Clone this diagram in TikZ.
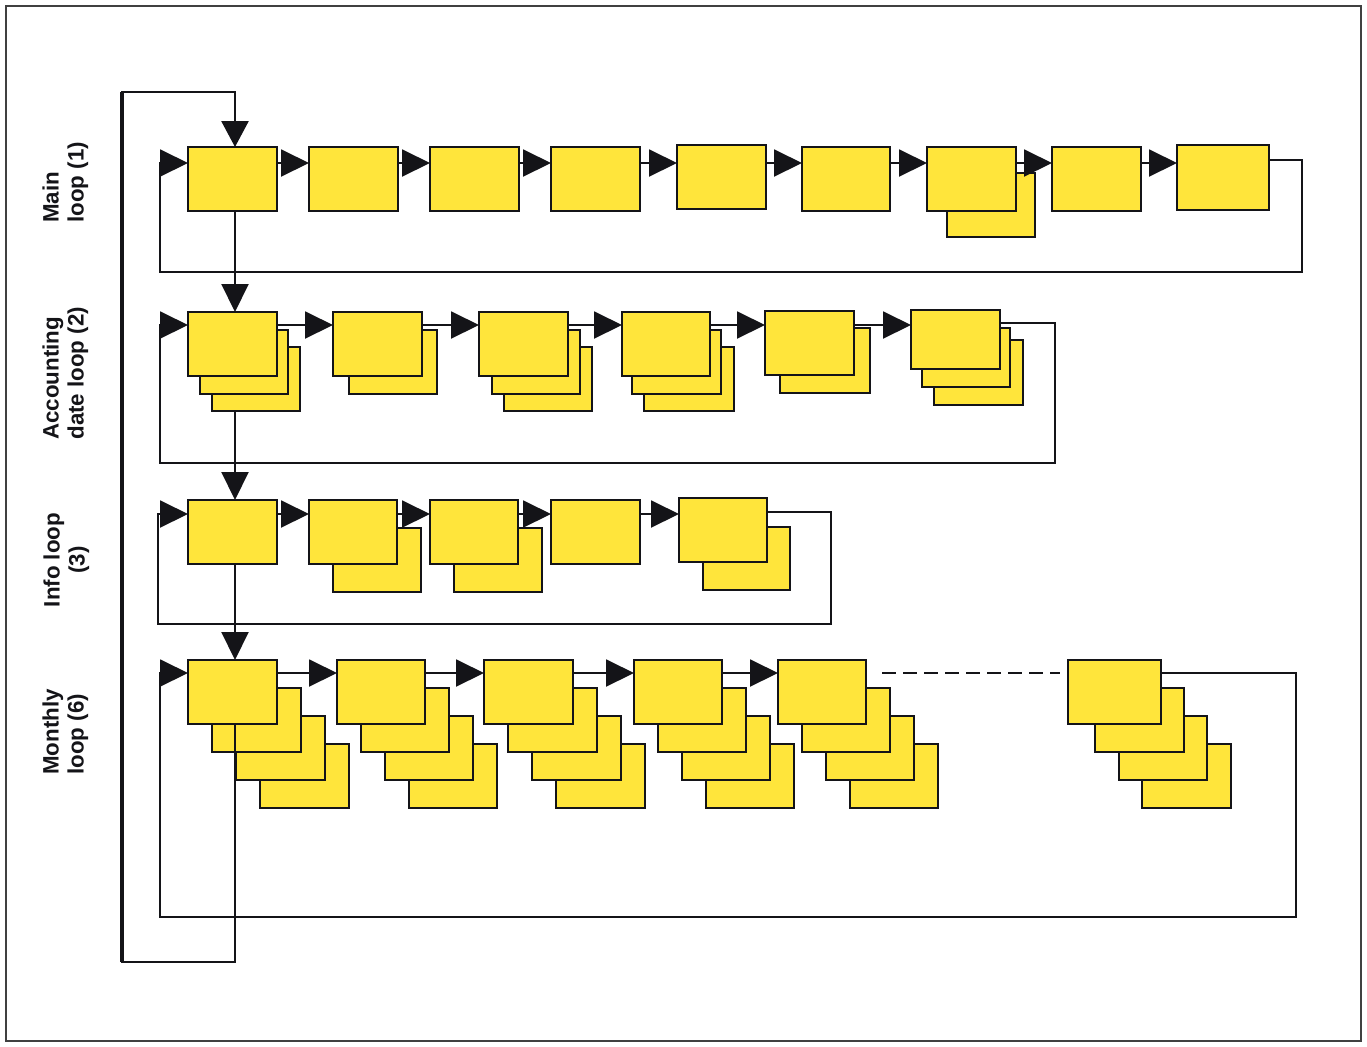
\documentclass[tikz,border=0pt]{standalone}
\usepackage{fontspec}
\setmainfont{Liberation Sans}
\usetikzlibrary{arrows.meta}

\definecolor{boxyellow}{RGB}{255,229,59}
\definecolor{ink}{RGB}{20,20,24}

% a yellow step box given by its corners (x1,y1) and (x2,y2)
\newcommand\ybox[5]{%
  \node[yb, minimum width={((#4)-(#2))*0.5pt}, minimum height={((#5)-(#3))*0.5pt}]
    (#1) at ({((#2)+(#4))/2},{((#3)+(#5))/2}) {};}

\tikzset{
  yb/.style={draw=ink, fill=boxyellow, line width=1pt, inner sep=0pt, outer sep=0pt, rectangle},
  conn/.style={draw=ink, line width=1pt},
  arr/.style={conn, -{Triangle[length=14pt,width=13.5pt]}},
  outer/.style={draw=ink, line width=1.3pt},
  lbl/.style={inner sep=0pt, rotate=90, text=ink,
    font=\fontsize{11.15pt}{12.5pt}\selectfont\bfseries},
  frame/.style={draw=black!75, line width=0.6pt}
}

\begin{document}
\begin{tikzpicture}[x=0.5pt, y=-0.5pt]
\useasboundingbox (0,0) rectangle (1367,1046);
\fill[white] (0,0) rectangle (1367,1046);
\draw[frame] (6,6) rectangle (1361,1041);

% loop labels
\node[lbl, align=left, anchor=north west] (lab1) at (42,223) {Main\\loop (1)};
\node[lbl, align=left, anchor=north west] (lab2) at (42,440) {Accounting\\date loop (2)};
\node[lbl, align=center, anchor=north] (lab3) at (43,560) {Info loop\\(3)};
\node[lbl, align=left, anchor=north west] (lab4) at (42,775) {Monthly\\loop (6)};

% arrow heights of the four rows, and the column of the links between loops
\coordinate (y1) at (0,163);
\coordinate (y2) at (0,325);
\coordinate (y3) at (0,514);
\coordinate (y4) at (0,673);
\coordinate (vx) at (235,0);

% ---- row 1: main loop
\ybox{r1b1}{188}{147}{277}{211}
\ybox{r1b2}{309}{147}{398}{211}
\ybox{r1b3}{430}{147}{519}{211}
\ybox{r1b4}{551}{147}{640}{211}
\ybox{r1b5}{677}{145}{766}{209}
\ybox{r1b6}{802}{147}{890}{211}
\ybox{r1b7-1}{947}{173}{1035}{237}
\ybox{r1b7}{927}{147}{1016}{211}
\ybox{r1b8}{1052}{147}{1141}{211}
\ybox{r1b9}{1177}{145}{1269}{210}

% ---- row 2: accounting date loop
\ybox{r2b1-2}{212}{347}{300}{411}
\ybox{r2b1-1}{200}{330}{288}{394}
\ybox{r2b1}{188}{312}{277}{376}
\ybox{r2b2-1}{349}{330}{437}{394}
\ybox{r2b2}{333}{312}{422}{376}
\ybox{r2b3-2}{504}{347}{592}{411}
\ybox{r2b3-1}{492}{330}{580}{394}
\ybox{r2b3}{479}{312}{568}{376}
\ybox{r2b4-2}{644}{347}{734}{411}
\ybox{r2b4-1}{632}{330}{721}{394}
\ybox{r2b4}{622}{312}{710}{376}
\ybox{r2b5-1}{780}{328}{870}{393}
\ybox{r2b5}{765}{311}{854}{375}
\ybox{r2b6-2}{934}{340}{1023}{405}
\ybox{r2b6-1}{922}{328}{1010}{387}
\ybox{r2b6}{911}{310}{1000}{369}

% ---- row 3: info loop
\ybox{r3b1}{188}{500}{277}{564}
\ybox{r3b2-1}{333}{528}{421}{592}
\ybox{r3b2}{309}{500}{397}{564}
\ybox{r3b3-1}{454}{528}{542}{592}
\ybox{r3b3}{430}{500}{518}{564}
\ybox{r3b4}{551}{500}{640}{564}
\ybox{r3b5-1}{703}{527}{790}{590}
\ybox{r3b5}{679}{498}{767}{562}

% ---- row 4: monthly loop, each step with three copies behind it
\foreach \n/\xa/\xb in {1/188/277, 2/337/425, 3/484/573, 4/634/722, 5/778/866} {
  \ybox{r4b\n-3}{\xa+72}{744}{\xb+72}{808}
  \ybox{r4b\n-2}{\xa+48}{716}{\xb+48}{780}
  \ybox{r4b\n-1}{\xa+24}{688}{\xb+24}{752}
  \ybox{r4b\n}{\xa}{660}{\xb}{724}
}
\ybox{r4b6-3}{1142}{744}{1231}{808}
\ybox{r4b6-2}{1119}{716}{1207}{780}
\ybox{r4b6-1}{1095}{688}{1184}{752}
\ybox{r4b6}{1068}{660}{1161}{724}

% step-to-step arrows
\foreach \i/\j in {1/2,2/3,3/4,4/5,5/6,6/7,7/8,8/9}
  \draw[arr] (r1b\i.east |- y1) -- (r1b\j.west |- y1);
\foreach \i/\j in {1/2,2/3,3/4,4/5,5/6}
  \draw[arr] (r2b\i.east |- y2) -- (r2b\j.west |- y2);
\foreach \i/\j in {1/2,2/3,3/4,4/5}
  \draw[arr] (r3b\i.east |- y3) -- (r3b\j.west |- y3);
\foreach \i/\j in {1/2,2/3,3/4,4/5}
  \draw[arr] (r4b\i.east |- y4) -- (r4b\j.west |- y4);
\draw[conn, dash pattern=on 7pt off 3.5pt]
  ([xshift=8pt,yshift=-6.5pt]r4b5.north east) -- ([xshift=-4pt,yshift=-6.5pt]r4b6.north west);

% loop-back paths of each row
\coordinate (c1r) at (1302,272); \coordinate (c1l) at (160,272);
\coordinate (c2r) at (1055,463); \coordinate (c2l) at (160,463);
\coordinate (c3r) at (831,624);  \coordinate (c3l) at (158,624);
\coordinate (c4r) at (1296,917); \coordinate (c4l) at (160,917);
\draw[arr] ([yshift=-7.5pt]r1b9.north east) -| (c1r) -- (c1l) |- (r1b1.west |- y1);
\draw[arr] ([yshift=-6.5pt]r2b6.north east) -| (c2r) -- (c2l) |- (r2b1.west |- y2);
\draw[arr] ([yshift=-7pt]r3b5.north east) -| (c3r) -- (c3l) |- (r3b1.west |- y3);
\draw[arr] ([yshift=-6.5pt]r4b6.north east) -| (c4r) -- (c4l) |- (r4b1.west |- y4);

% links down from one loop to the next
\draw[arr] (vx |- r1b1.south) -- (vx |- r2b1.north);
\draw[arr] (vx |- r2b1-2.south) -- (vx |- r3b1.north);
\draw[arr] (vx |- r3b1.south) -- (vx |- r4b1.north);

% outer return from the monthly loop to the main loop
\coordinate (ob) at (122,962);
\coordinate (ot) at (122,92);
\draw[outer, -{Triangle[length=13pt,width=13.5pt]}]
  (vx |- r4b1.south) |- (ob) -- (ot) -| (vx |- r1b1.north);
\draw[draw=ink, line width=2pt] (ob) -- (ot);
\end{tikzpicture}
\end{document}
